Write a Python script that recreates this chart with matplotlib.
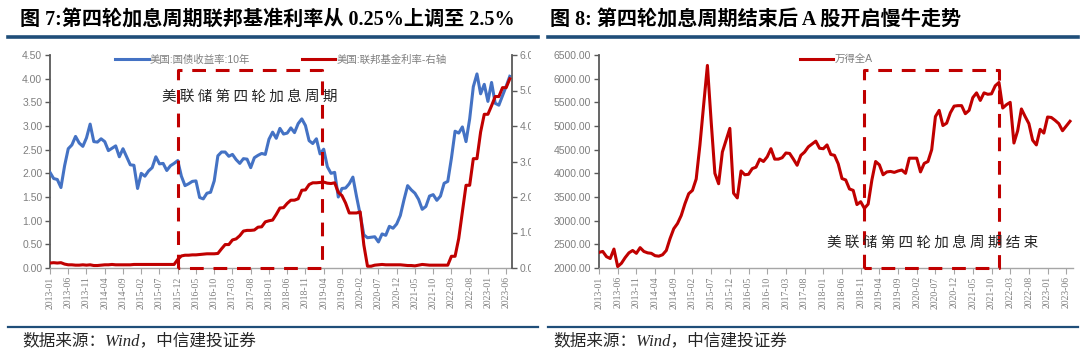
import matplotlib
matplotlib.use('Agg')
import matplotlib.pyplot as plt
from matplotlib.lines import Line2D
from matplotlib.patches import Rectangle
import matplotlib.ticker as mticker

# ---------------- data ----------------
start_year = 2013
n_months = 127  # 2013-01 .. 2023-07
month_labels = [f"{start_year + i // 12}-{i % 12 + 1:02d}" for i in range(n_months)]
tick_step = 5

us10y = [2.02, 1.89, 1.87, 1.70, 2.16, 2.52, 2.60, 2.78, 2.64, 2.57, 2.75, 3.04,
         2.67, 2.66, 2.73, 2.67, 2.48, 2.53, 2.58, 2.35, 2.52, 2.35, 2.18, 2.17,
         1.68, 2.00, 1.94, 2.05, 2.12, 2.35, 2.20, 2.21, 2.06, 2.16, 2.21, 2.27,
         1.94, 1.74, 1.78, 1.83, 1.84, 1.49, 1.46, 1.58, 1.60, 1.84, 2.37, 2.45,
         2.45, 2.36, 2.40, 2.29, 2.21, 2.31, 2.30, 2.12, 2.33, 2.38, 2.42, 2.40,
         2.72, 2.87, 2.74, 2.95, 2.83, 2.85, 2.96, 2.86, 3.05, 3.15, 3.01, 2.69,
         2.63, 2.73, 2.41, 2.51, 2.14, 2.00, 2.02, 1.50, 1.68, 1.69, 1.78, 1.92,
         1.51, 1.13, 0.70, 0.64, 0.65, 0.66, 0.55, 0.72, 0.69, 0.88, 0.84, 0.93,
         1.11, 1.44, 1.74, 1.65, 1.58, 1.45, 1.24, 1.30, 1.52, 1.55, 1.43, 1.52,
         1.79, 1.83, 2.32, 2.89, 2.85, 2.98, 2.67, 3.15, 3.83, 4.10, 3.68, 3.88,
         3.52, 3.92, 3.48, 3.44, 3.64, 3.84, 4.05]

fed_funds = [0.14, 0.15, 0.14, 0.15, 0.11, 0.09, 0.09, 0.08, 0.08, 0.09, 0.08, 0.09,
             0.07, 0.07, 0.08, 0.09, 0.09, 0.10, 0.09, 0.09, 0.09, 0.09, 0.09, 0.10,
             0.10, 0.10, 0.10, 0.10, 0.10, 0.10, 0.10, 0.10, 0.10, 0.10, 0.10, 0.24,
             0.34, 0.36, 0.36, 0.37, 0.37, 0.38, 0.39, 0.40, 0.40, 0.40, 0.41, 0.54,
             0.66, 0.66, 0.79, 0.82, 0.91, 1.04, 1.06, 1.06, 1.07, 1.15, 1.16, 1.30,
             1.33, 1.35, 1.51, 1.69, 1.70, 1.82, 1.91, 1.91, 1.95, 2.19, 2.20, 2.35,
             2.40, 2.40, 2.41, 2.42, 2.39, 2.38, 2.40, 2.13, 2.04, 1.83, 1.55, 1.55,
             1.55, 1.58, 0.65, 0.05, 0.05, 0.08, 0.09, 0.10, 0.09, 0.09, 0.09, 0.09,
             0.09, 0.08, 0.07, 0.07, 0.06, 0.08, 0.10, 0.09, 0.08, 0.08, 0.08, 0.08,
             0.08, 0.08, 0.33, 0.33, 0.83, 1.58, 2.33, 2.33, 3.08, 3.08, 3.83, 4.33,
             4.33, 4.57, 4.83, 4.83, 5.08, 5.08, 5.33]

wind_all_a = [2330, 2350, 2240, 2200, 2400, 2030, 2100, 2220, 2320, 2370, 2310, 2430,
              2350, 2320, 2310, 2260, 2250, 2280, 2370, 2620, 2830, 2940, 3110, 3360,
              3570, 3640, 3880, 4600, 5450, 6280, 5100, 4000, 3780, 4450, 4700, 4950,
              3580, 3480, 4050, 3970, 3980, 4100, 4130, 4300, 4250, 4350, 4520, 4300,
              4300, 4330, 4430, 4420, 4300, 4170, 4380, 4450, 4560, 4620, 4680, 4530,
              4520, 4600, 4400, 4380, 4200, 3890, 3860, 3670, 3640, 3340, 3400, 3260,
              3350, 3860, 4250, 4180, 3970, 4030, 4040, 4020, 4050, 4070, 4000, 4320,
              4320, 4320, 4030, 4210, 4250, 4500, 5200, 5330, 5010, 5060, 5280, 5420,
              5430, 5430, 5260, 5330, 5600, 5700, 5540, 5700, 5670, 5680, 5850, 5920,
              5380, 5450, 5500, 4640, 4900, 5360, 5200, 5050, 4700, 4600, 4930, 4850,
              5190, 5180, 5120, 5050, 4900, 5000, 5100]

legend_left = ["美国:国债收益率:10年", "美国:联邦基金利率-右轴"]
legend_right = ["万得全A"]
title_left = "图 7:第四轮加息周期联邦基准利率从 0.25%上调至 2.5%"
title_right = "图 8: 第四轮加息周期结束后 A 股开启慢牛走势"
source_text = "数据来源：Wind，中信建投证券"
note_left = "美联储第四轮加息周期"
note_right = "美联储第四轮加息周期结束"

# highlight boxes (month index start, end, top value)
box_left = (35, 74.5, 4.18)
box_right = (71, 107, 6180)

# ---------------- style ----------------
BLUE = "#4472C4"
RED = "#C00000"
GRAY = "#7F7F7F"
AXC = "#595959"
RULE = "#1F4E79"
CJK = ["Liberation Serif", "Noto Sans CJK SC"]
SANS = ["Liberation Sans", "Noto Sans CJK SC"]

plt.rcParams['font.family'] = SANS
plt.rcParams['axes.unicode_minus'] = False

W, H = 1080, 362
fig = plt.figure(figsize=(W / 100, H / 100), dpi=100)
fig.patch.set_facecolor("white")


def px(x0, y0, x1, y1):
    return [x0 / W, 1 - y1 / H, (x1 - x0) / W, (y1 - y0) / H]


x = list(range(n_months))
tick_pos = list(range(0, n_months, tick_step))
tick_lab = [month_labels[i] for i in tick_pos]


def spaced(s):
    return " ".join(list(s))


def style_axes(ax):
    for s in ["top", "right"]:
        ax.spines[s].set_visible(False)
    ax.spines["left"].set_color(AXC)
    ax.spines["left"].set_linewidth(1.3)
    ax.spines["bottom"].set_color("#A6A6A6")
    ax.spines["bottom"].set_linewidth(1.0)
    ax.set_xticks(tick_pos)
    ax.set_xticklabels(tick_lab, rotation=90, fontsize=7, color=GRAY,
                       family=["Liberation Serif"])
    ax.tick_params(axis="x", direction="out", length=4, width=0.8, color="#A6A6A6", pad=2)
    ax.tick_params(axis="y", direction="out", length=3.5, width=1.0, color=AXC,
                   labelsize=7.5, labelcolor=GRAY, pad=2)


# ---------------- left chart ----------------
axL = fig.add_axes(px(50, 55, 512, 268))
style_axes(axL)
axL.set_xlim(0, n_months - 0.4)
axL.set_ylim(0, 4.5)
axL.yaxis.set_major_locator(mticker.MultipleLocator(0.5))
axL.yaxis.set_major_formatter(mticker.FormatStrFormatter("%.2f"))
l1, = axL.plot(x, us10y, color=BLUE, lw=2.2, solid_joinstyle="round", zorder=3)

axR = axL.twinx()
axR.set_ylim(0, 6)
axR.yaxis.set_major_locator(mticker.MultipleLocator(1))
axR.yaxis.set_major_formatter(mticker.FormatStrFormatter("%.2f"))
for s in ["top", "left"]:
    axR.spines[s].set_visible(False)
axR.spines["right"].set_color(AXC)
axR.spines["right"].set_linewidth(1.3)
axR.spines["bottom"].set_visible(False)
axR.tick_params(axis="y", direction="out", length=3.5, width=1.0, color=AXC,
                labelsize=7.5, labelcolor=GRAY, pad=2)
l2, = axR.plot(x, fed_funds, color=RED, lw=2.2, solid_joinstyle="round", zorder=3)

bx0, bx1, btop = box_left
axL.plot([bx0, bx0, bx1, bx1, bx0], [0, btop, btop, 0, 0], color=RED, lw=2.2,
         dashes=(4.5, 3.2), zorder=4, clip_on=False)
axL.text((bx0 + bx1) / 2, 3.62, spaced(note_left), ha="center", va="center", fontsize=10.5,
         family=["Noto Sans CJK SC"], color="#262626", fontweight="medium", zorder=5)

leg = axL.legend([l1, l2], legend_left, loc="upper center", bbox_to_anchor=(0.5, 1.045),
                 ncol=2, frameon=False, handlelength=3.2,
                 columnspacing=5.0, handletextpad=0.1, prop={"family": SANS, "size": 7.5})
for t in leg.get_texts():
    t.set_color(GRAY)

# ---------------- right chart ----------------
ax2 = fig.add_axes(px(599, 55, 1073, 268))
style_axes(ax2)
ax2.set_xlim(0, n_months - 0.2)
ax2.set_ylim(2000, 6500)
ax2.yaxis.set_major_locator(mticker.MultipleLocator(500))
ax2.yaxis.set_major_formatter(mticker.FormatStrFormatter("%.2f"))
l3, = ax2.plot(x, wind_all_a, color=RED, lw=2.2, solid_joinstyle="round", zorder=3)
rx0, rx1, rtop = box_right
ax2.plot([rx0, rx0, rx1, rx1, rx0], [2000, rtop, rtop, 2000, 2000], color=RED, lw=2.2,
         dashes=(4.5, 3.2), zorder=4, clip_on=False)
ax2.text(89.3, 2540, spaced(note_right), ha="center", va="center", fontsize=10.5,
         family=["Noto Sans CJK SC"], color="#262626", fontweight="medium", zorder=5)
leg2 = ax2.legend([l3], legend_right, loc="upper center", bbox_to_anchor=(0.5, 1.045),
                  frameon=False, handlelength=3.2, handletextpad=0.1,
                  prop={"family": SANS, "size": 7.5})
for t in leg2.get_texts():
    t.set_color(GRAY)

# mask to crop right-axis labels of left chart like in the reference
fig.add_artist(Rectangle((531 / W, (H - 285) / H), 14 / W, 245 / H, transform=fig.transFigure,
                         facecolor="white", edgecolor="none", zorder=10))

# ---------------- titles, rules, sources ----------------
fig.text(20 / W, 1 - 21 / H, title_left, ha="left", va="center", fontsize=14.5,
         fontweight="bold", family=CJK, color="black")
fig.text(550 / W, 1 - 21 / H, title_right, ha="left", va="center", fontsize=14.5,
         fontweight="bold", family=CJK, color="black")
for (a, b) in [(8, 538), (548, 1078)]:
    fig.add_artist(Line2D([a / W, b / W], [1 - 37 / H, 1 - 37 / H], color=RULE, lw=2.6,
                          transform=fig.transFigure))
    fig.add_artist(Line2D([a / W, b / W], [1 - 327 / H, 1 - 327 / H], color=RULE, lw=1.6,
                          transform=fig.transFigure))
for xs in (22, 553):
    fig.text(xs / W, 1 - 341 / H, source_text, ha="left", va="center", fontsize=12,
             family=CJK, style="italic", color="#262626")

fig.savefig("out.png", dpi=100, facecolor="white")
